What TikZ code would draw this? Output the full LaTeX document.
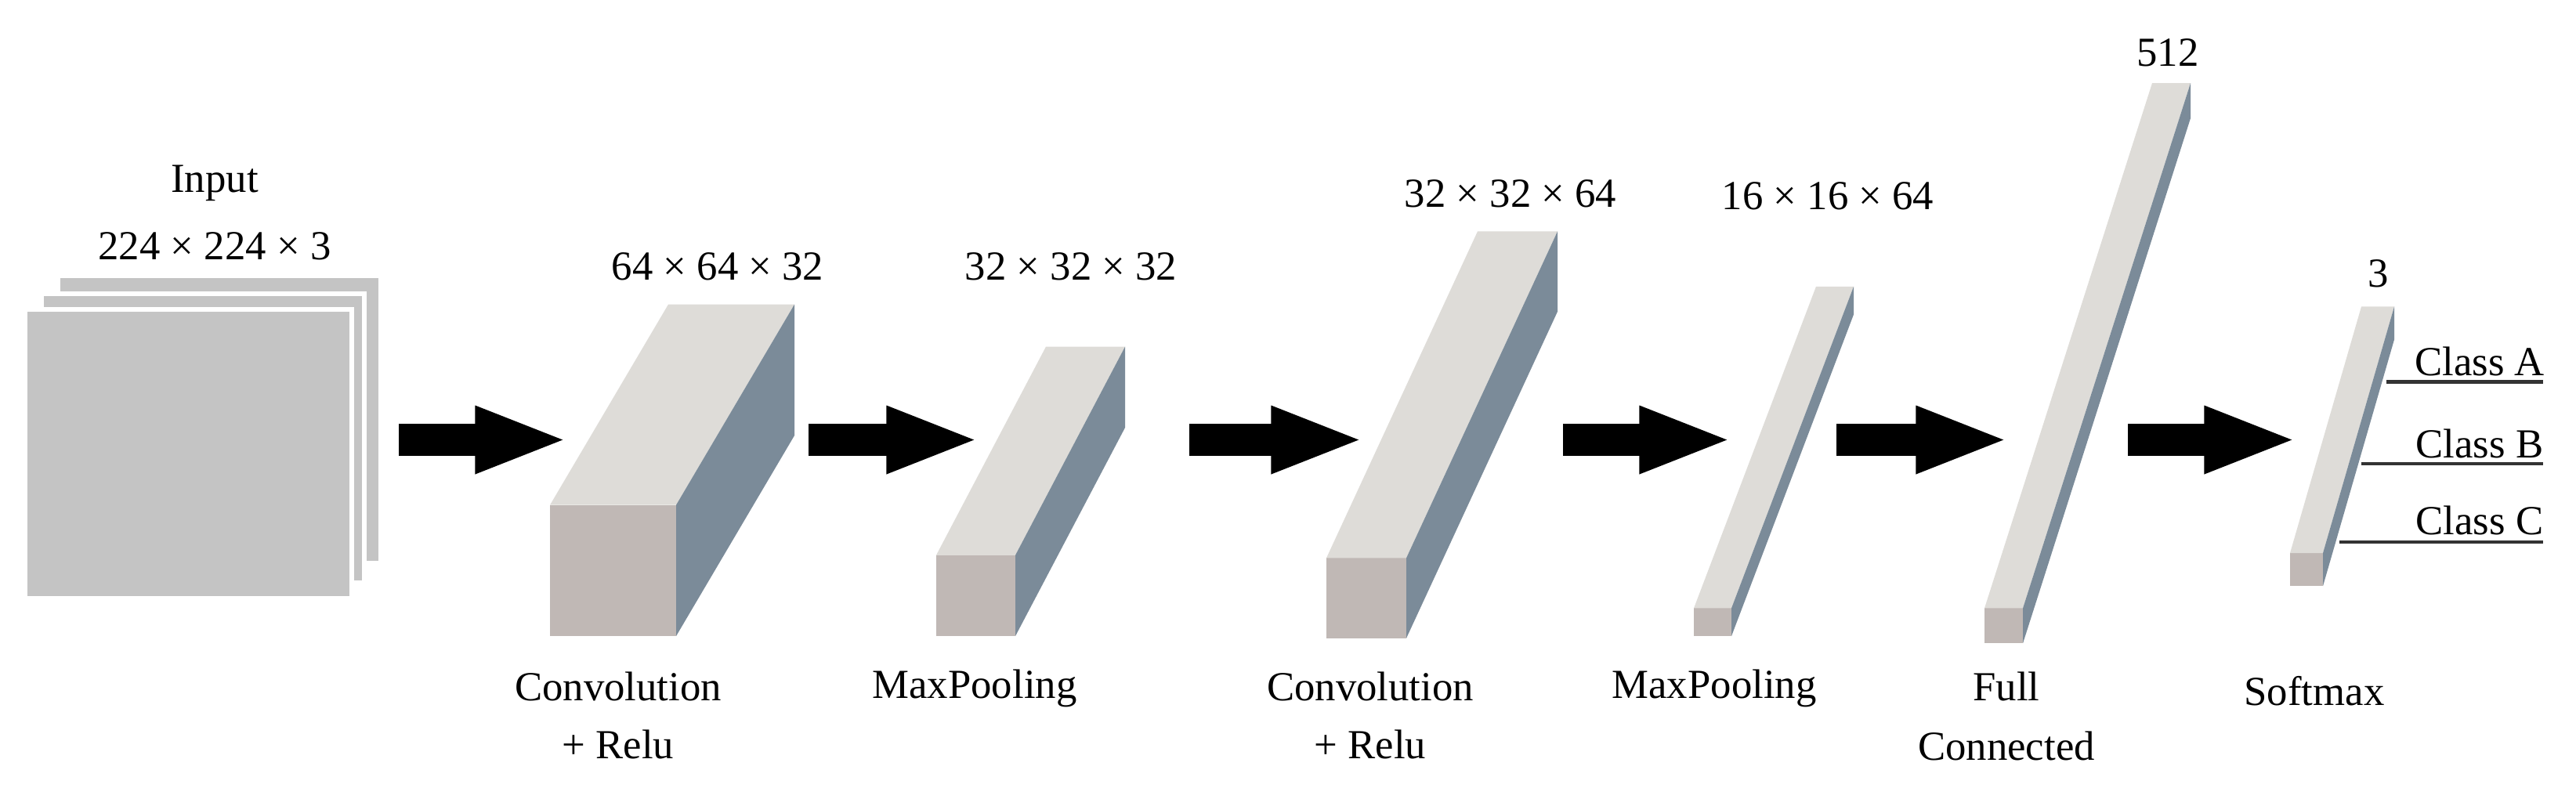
\documentclass[tikz,border=0pt]{standalone}
\usepackage{fontspec}
\setmainfont{Liberation Serif}
\usetikzlibrary{arrows.meta}
\definecolor{topc}{HTML}{DEDCD8}
\definecolor{frontc}{HTML}{C0B8B5}
\definecolor{sidec}{HTML}{7B8B99}
\definecolor{inpc}{HTML}{C4C4C4}
\newcommand\mycuboid[7]{% x1 x2 ytop ybot dx dy name
  \fill[frontc] (#1,#3) rectangle (#2,#4);
  \fill[topc] (#1,#3) -- ++(#5,#6) -- ++(#2-#1,0) -- (#2,#3) -- cycle;
  \fill[sidec] (#2,#3) -- ++(#5,#6) -- ++(0,#4-#3) -- (#2,#4) -- cycle;
  \coordinate (#7) at (#1,#4);
}
\begin{document}
\begin{tikzpicture}[x=0.01cm,y=-0.009136cm,
  lbl/.style={font=\fontsize{15}{18}\selectfont, inner sep=0pt},
  bigarrow/.style={line width=11.5pt,-{Triangle[length=34pt,width=22pt]}},
  sheet/.style={fill=inpc, draw=white, line width=1.5pt}]
\useasboundingbox[fill=white] (0,0) rectangle (3288,1100);
% input
\draw[sheet] (74,385) rectangle (486,786);
\draw[sheet] (53,410) rectangle (465,813);
\draw[sheet] (32,432) rectangle (449,835);
\node[lbl] (tin) at (274,256) {Input};
\node[lbl] (tind) at (274,344) {224 × 224 × 3};
% boxes
\mycuboid{702}{863}{705}{888}{151}{-280}{b1}
\mycuboid{1195}{1296}{775}{888}{140}{-291}{b2}
\mycuboid{1693}{1795}{779}{891}{193}{-456}{b3}
\mycuboid{2162}{2210}{849}{888}{156}{-449}{b4}
\mycuboid{2533}{2582}{849}{898}{214}{-733}{b5}
\mycuboid{2923}{2965}{772}{818}{91}{-344}{b6}
% labels
\node[lbl] (l1) at (916,372) {64 × 64 × 32};
\node[lbl] (l2) at (1367,372) {32 × 32 × 32};
\node[lbl] (l3) at (1928,270) {32 × 32 × 64};
\node[lbl] (l4) at (2333,274) {16 × 16 × 64};
\node[lbl] (l5) at (2767,74) {512};
\node[lbl] (l6) at (3036,382) {3};
\node[lbl] (n1) at (789,958) {Convolution};
\node[lbl] (n1b) at (789,1039) {+ Relu};
\node[lbl] (n2) at (1244,961) {MaxPooling};
\node[lbl] (n3) at (1749,958) {Convolution};
\node[lbl] (n3b) at (1749,1039) {+ Relu};
\node[lbl] (n4) at (2188,961) {MaxPooling};
\node[lbl] (n5) at (2561,958) {Full};
\node[lbl] (n5b) at (2561,1042) {Connected};
\node[lbl] (n6) at (2954,965) {Softmax};
% arrows
\coordinate (a1s) at (509,614); \coordinate (a1e) at (726,614);
\coordinate (a2s) at (1032,614); \coordinate (a2e) at (1251,614);
\coordinate (a3s) at (1518,614); \coordinate (a3e) at (1742,614);
\coordinate (a4s) at (1995,614); \coordinate (a4e) at (2212,614);
\coordinate (a5s) at (2344,614); \coordinate (a5e) at (2565,614);
\coordinate (a6s) at (2716,614); \coordinate (a6e) at (2933,614);
\foreach \i in {1,...,6}{\draw[bigarrow] (a\i s) -- (a\i e);}
% classes
\coordinate (cA1) at (3046,533); \coordinate (cA2) at (3246,533);
\coordinate (cB1) at (3014,647); \coordinate (cB2) at (3246,647);
\coordinate (cC1) at (2986,757); \coordinate (cC2) at (3246,757);
\draw[line width=1.2pt,black!80] (cA1) -- (cA2);
\draw[line width=1.2pt,black!80] (cB1) -- (cB2);
\draw[line width=1.2pt,black!80] (cC1) -- (cC2);
\node[lbl] (tA) at (3165,505) {Class A};
\node[lbl] (tB) at (3165,619) {Class B};
\node[lbl] (tC) at (3165,727) {Class C};
\end{tikzpicture}
\end{document}
